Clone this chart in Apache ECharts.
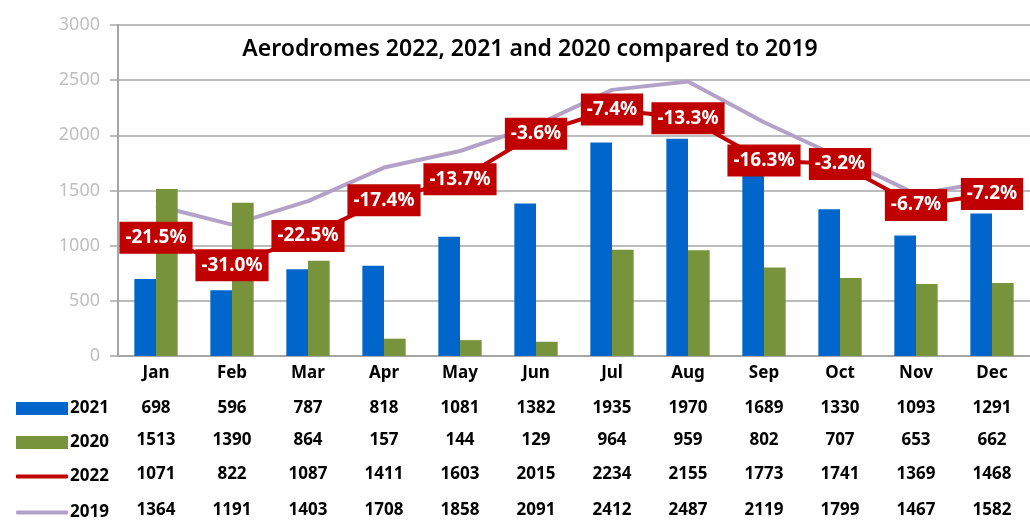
<!DOCTYPE html>
<html>
<head>
<meta charset="utf-8">
<script src="https://cdn.jsdelivr.net/npm/echarts@6/dist/echarts.min.js"></script>
<style>
  html, body { margin: 0; padding: 0; background: #fff; }
  #chart { width: 1030px; height: 520px; }
</style>
</head>
<body>
<div id="chart"></div>
<script>
var months = ['Jan', 'Feb', 'Mar', 'Apr', 'May', 'Jun', 'Jul', 'Aug', 'Sep', 'Oct', 'Nov', 'Dec'];
var data2021 = [698, 596, 787, 818, 1081, 1382, 1935, 1970, 1689, 1330, 1093, 1291];
var data2020 = [1513, 1390, 864, 157, 144, 129, 964, 959, 802, 707, 653, 662];
var data2022 = [1071, 822, 1087, 1411, 1603, 2015, 2234, 2155, 1773, 1741, 1369, 1468];
var data2019 = [1364, 1191, 1403, 1708, 1858, 2091, 2412, 2487, 2119, 1799, 1467, 1582];
// change 2022 vs 2019, as printed on the chart
var changeLabels = ['-21.5%', '-31.0%', '-22.5%', '-17.4%', '-13.7%', '-3.6%', '-7.4%', '-13.3%', '-16.3%', '-3.2%', '-6.7%', '-7.2%'];
var yTicks = [0, 500, 1000, 1500, 2000, 2500, 3000];

var FONT = 'Noto Sans';
var BLUE = '#0066cc', GREEN = '#77933c', RED = '#c00000', LAVENDER = '#b3a2c7';

// one table row under the plot = one extra category axis
function tableAxis(values, offset) {
    return {
        type: 'category',
        data: months,
        position: 'bottom',
        offset: offset,
        axisLine: { show: false },
        axisTick: { show: false },
        axisLabel: {
            margin: 9,
            color: '#000',
            fontFamily: FONT,
            fontSize: 17,
            fontWeight: 'bold',
            interval: 0,
            formatter: function (v, i) { return String(values[i]); }
        }
    };
}

function legendRow(name, top, w, h, icon) {
    return {
        left: 11,
        top: top,
        data: [{ name: name, icon: icon }],
        itemWidth: w,
        itemHeight: h,
        itemGap: 0,
        textStyle: { color: '#000', fontFamily: FONT, fontSize: 17, fontWeight: 'bold', padding: [0, 0, 0, -3] },
        selectedMode: false
    };
}

var chart = echarts.init(document.getElementById('chart'));
chart.setOption({
    animation: false,
    title: {
        text: 'Aerodromes 2022, 2021 and 2020 compared to 2019',
        left: 525,
        top: 33,
        textAlign: 'center',
        textStyle: { fontFamily: FONT, fontSize: 23, fontWeight: 600, color: '#000' }
    },
    legend: [
        legendRow('2021', 395, 52, 13, 'rect'),
        legendRow('2020', 429, 52, 13, 'rect'),
        legendRow('2022', 463, 52, 4, 'roundRect'),
        legendRow('2019', 499, 52, 4, 'roundRect')
    ],
    grid: { left: 118, top: 25, right: -8, bottom: 164 },
    xAxis: [
        {
            type: 'category',
            data: months,
            axisLine: { lineStyle: { color: '#a6a6a6', width: 2 } },
            axisTick: { show: false },
            axisLabel: { margin: 9, color: '#000', fontFamily: FONT, fontSize: 17, fontWeight: 'bold', interval: 0 }
        },
        tableAxis(data2021, 35),
        tableAxis(data2020, 67),
        tableAxis(data2022, 101),
        tableAxis(data2019, 137)
    ],
    yAxis: {
        type: 'value',
        min: yTicks[0],
        max: yTicks[yTicks.length - 1],
        interval: 500,
        axisLine: { show: true, lineStyle: { color: '#a6a6a6', width: 2 } },
        axisTick: { show: true, length: 8, lineStyle: { color: '#a6a6a6', width: 1.5 } },
        splitLine: { lineStyle: { color: '#a6a6a6', width: 1.5 } },
        axisLabel: {
            margin: 18, color: '#bfbfbf', fontFamily: FONT, fontSize: 18,
            formatter: function (v) { return String(v); }
        }
    },
    series: [
        {
            name: '2019',
            type: 'line',
            data: data2019,
            z: 1,
            symbol: 'none',
            lineStyle: { color: LAVENDER, width: 4 },
            itemStyle: { color: LAVENDER }
        },
        {
            name: '2021',
            type: 'bar',
            data: data2021,
            z: 2,
            barGap: '0%',
            barCategoryGap: '43%',
            itemStyle: { color: BLUE }
        },
        {
            name: '2020',
            type: 'bar',
            data: data2020,
            z: 2,
            itemStyle: { color: GREEN }
        },
        {
            name: '2022',
            type: 'line',
            data: data2022,
            z: 3,
            symbol: 'circle',
            symbolSize: 2,
            showSymbol: true,
            lineStyle: { color: RED, width: 4 },
            itemStyle: { color: RED },
            label: {
                show: true,
                position: 'inside',
                formatter: function (p) { return changeLabels[p.dataIndex]; },
                backgroundColor: RED,
                color: '#fff',
                fontFamily: FONT,
                fontSize: 19,
                lineHeight: 20,
                fontWeight: 'bold',
                padding: [6, 6, 6, 6]
            },
            labelLayout: { hideOverlap: false }
        }
    ]
});
</script>
</body>
</html>
